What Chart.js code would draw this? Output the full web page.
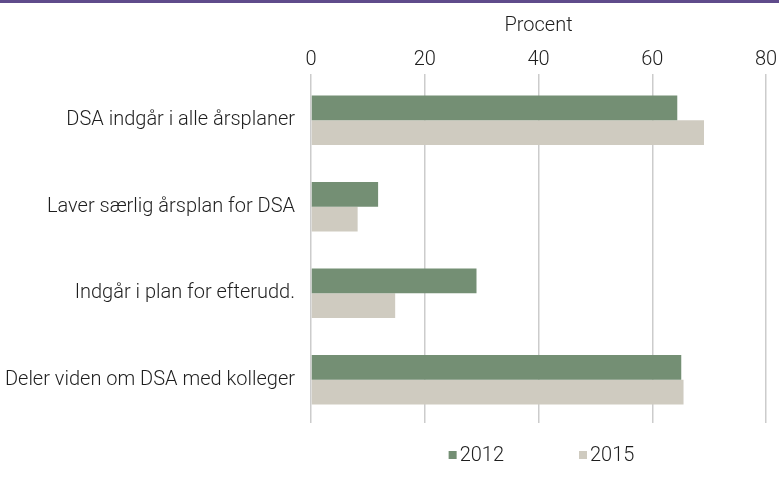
<!DOCTYPE html>
<html>
<head>
    <title>DSA i årsplaner</title>
    <script src="https://cdn.jsdelivr.net/npm/chart.js@4/dist/chart.umd.min.js"></script>
    <style>
        body {
            margin: 0;
            background-color: white;
        }
        .wrap {
            width: 779px;
            height: 491px;
        }
    </style>
</head>
<body>
    <div class="wrap">
        <canvas id="myChart" width="779" height="491"></canvas>
    </div>

    <script>
        const categories = [
            'DSA indgår i alle årsplaner',
            'Laver særlig årsplan for DSA',
            'Indgår i plan for efterudd.',
            'Deler viden om DSA med kolleger'
        ];
        const values2012 = [64.4, 11.8, 29.1, 65.1];
        const values2015 = [69.1, 8.2, 14.8, 65.5];
        const seriesNames = ['2012', '2015'];
        const seriesColors = ['#748f74', '#cfcbc0'];

        const textColor = '#1e1e1e';
        const fontFamily = 'Roboto, "Noto Sans", sans-serif';
        const fontSize = 20;

        // purple rule along the top edge
        const topRule = {
            id: 'topRule',
            beforeDraw(chart) {
                const ctx = chart.ctx;
                ctx.save();
                ctx.fillStyle = '#5f4b8b';
                ctx.fillRect(0, 0, chart.width, 3);
                ctx.restore();
            }
        };

        // legend centred under the plot area, small squares
        const bottomLegend = {
            id: 'bottomLegend',
            afterDraw(chart) {
                const ctx = chart.ctx;
                const area = chart.chartArea;
                ctx.save();
                ctx.font = '300 ' + fontSize + 'px ' + fontFamily;
                ctx.textBaseline = 'middle';
                const box = 8, gapText = 3, gapItem = 75;
                const widths = seriesNames.map(n => box + gapText + ctx.measureText(n).width);
                const total = widths.reduce((a, b) => a + b, 0) + gapItem * (widths.length - 1);
                let x = (area.left + area.right) / 2 - total / 2 + 3;
                const y = 455;
                seriesNames.forEach((name, i) => {
                    ctx.fillStyle = seriesColors[i];
                    ctx.fillRect(x, y - box / 2, box, box);
                    ctx.fillStyle = textColor;
                    ctx.fillText(name, x + box + gapText, y + 1);
                    x += widths[i] + gapItem;
                });
                ctx.restore();
            }
        };

        const ctx = document.getElementById('myChart').getContext('2d');
        const chart = new Chart(ctx, {
            type: 'bar',
            data: {
                labels: categories,
                datasets: [{
                    label: seriesNames[0],
                    data: values2012,
                    backgroundColor: seriesColors[0],
                    categoryPercentage: 0.57,
                    barPercentage: 1.0
                }, {
                    label: seriesNames[1],
                    data: values2015,
                    backgroundColor: seriesColors[1],
                    categoryPercentage: 0.57,
                    barPercentage: 1.0
                }]
            },
            options: {
                indexAxis: 'y',
                responsive: false,
                animation: false,
                layout: {
                    padding: { top: 0, right: 13, bottom: 68, left: 0 }
                },
                scales: {
                    x: {
                        position: 'top',
                        min: 0,
                        max: 80,
                        ticks: {
                            stepSize: 20,
                            color: textColor,
                            padding: 2,
                            font: { family: fontFamily, size: fontSize, weight: 300 }
                        },
                        grid: {
                            color: '#cccccc',
                            lineWidth: 1.5,
                            tickLength: 3
                        },
                        border: { display: false },
                        title: {
                            display: true,
                            text: 'Procent',
                            color: textColor,
                            padding: { top: 14, bottom: 0 },
                            font: { family: fontFamily, size: fontSize, weight: 300 }
                        },
                        afterFit(scale) {
                            scale.height = 77;
                            scale.paddingLeft = 0;
                            scale.paddingRight = 0;
                        }
                    },
                    y: {
                        ticks: {
                            color: textColor,
                            padding: 16,
                            font: { family: fontFamily, size: fontSize, weight: 300 }
                        },
                        grid: { display: false, drawTicks: false },
                        border: { display: false },
                        afterFit(scale) {
                            scale.width = 311;
                        }
                    }
                },
                plugins: {
                    legend: { display: false },
                    tooltip: { enabled: false }
                }
            },
            plugins: [topRule, bottomLegend]
        });
    </script>
</body>
</html>
